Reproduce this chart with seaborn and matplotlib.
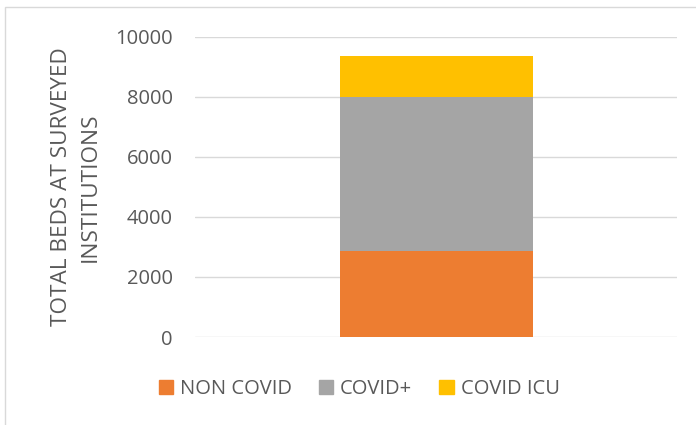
import pandas as pd
import numpy as np
import matplotlib
matplotlib.use("Agg")
import matplotlib.pyplot as plt
import matplotlib.patches as mpatches
import seaborn as sns

# data
categories = ["NON COVID", "COVID+", "COVID ICU"]
beds = [2870, 5130, 1370]
colors = ["#ED7D31", "#A5A5A5", "#FFC000"]
yticks = [0, 2000, 4000, 6000, 8000, 10000]

sns.set_theme(style="white")
plt.rcParams['font.family'] = ['Open Sans', 'DejaVu Sans']
text_color = "#595959"
fs = 14.5

fig = plt.figure(figsize=(6.96, 4.25), dpi=100)
ax = fig.add_axes([0.280, 0.207, 0.693, 0.7066])

# chart border like the office chart frame
fig.patches.append(mpatches.Rectangle((5 / 696, -0.1), 1.0, 1 - 7 / 425 + 0.1,
                                      transform=fig.transFigure, fill=False,
                                      edgecolor="#d9d9d9", linewidth=1.0))

# stacked bar: draw cumulative totals, tallest first
cum = np.cumsum(beds)
df = pd.DataFrame({"group": ["beds"] * 3, "layer": categories, "top": cum})
for i in range(len(categories) - 1, -1, -1):
    sns.barplot(data=df.iloc[[i]], x="group", y="top", color=colors[i],
                width=0.4, saturation=1, linewidth=0, ax=ax, zorder=2)

ax.set_xlim(-0.5, 0.5)
ax.set_ylim(0, 10000)
ax.set_yticks(yticks)
ax.set_yticklabels([str(t) for t in yticks], fontsize=fs, color=text_color)
ax.set_xticks([])
ax.set_xlabel("")
ax.set_ylabel("TOTAL BEDS AT SURVEYED\nINSTITUTIONS", fontsize=16.2, color=text_color,
              labelpad=10.5, linespacing=1.45)
ax.tick_params(axis="y", length=0, pad=16)
ax.grid(axis="y", color="#d9d9d9", linewidth=1.0, zorder=0)
ax.set_axisbelow(True)
for s in ax.spines.values():
    s.set_visible(False)

handles = [mpatches.Patch(color=c, label=l) for c, l in zip(colors, categories)]
fig.legend(handles=handles, loc="center", bbox_to_anchor=(0.516, 1 - 389 / 425),
           ncol=3, frameon=False, fontsize=fs, handlelength=0.7, handleheight=0.7,
           handletextpad=0.35, columnspacing=1.35, labelcolor=text_color)

plt.savefig("out.png", dpi=100)
plt.close()
